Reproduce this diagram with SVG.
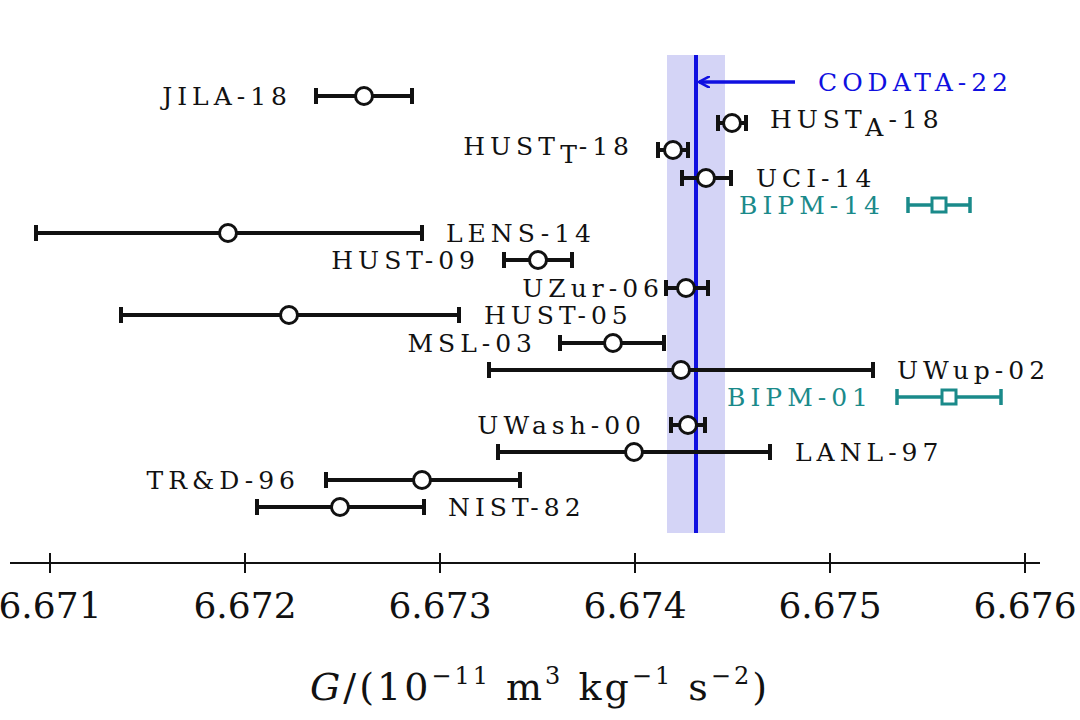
<svg xmlns="http://www.w3.org/2000/svg" width="1080" height="720" viewBox="0 0 1080 720">
<style>
text{font-family:"DejaVu Serif","Liberation Serif",serif;fill:#111}
.l{font-size:25px;letter-spacing:5px}
.t{font-size:36px}
.bar{stroke:#111;stroke-width:4;fill:none}
.tb{stroke:#1a8a8a;stroke-width:3.5;fill:none}
.pt{fill:#fff;stroke:#111;stroke-width:3}
.ts{fill:#fff;stroke:#1a8a8a;stroke-width:3}
.teal{fill:#1a8a8a}
</style>
<defs>
<marker id="ah" markerWidth="12" markerHeight="12" refX="11" refY="6" orient="auto" markerUnits="userSpaceOnUse"><path d="M0,0 L11,6 L0,12" fill="none" stroke="#1010e0" stroke-width="2.5"/></marker>
</defs>
<rect width="1080" height="720" fill="#fff"/>
<rect x="667" y="55" width="58" height="478" fill="#d4d4f6"/>
<line x1="696" y1="55" x2="696" y2="533" stroke="#1010e0" stroke-width="4"/>
<g id="connectors">
<line x1="795" y1="82" x2="699" y2="82" stroke="#1010e0" stroke-width="3.5" marker-end="url(#ah)"/>
</g>
<text x="818" y="91" class="l" style="fill:#1010e0">CODATA-22</text>
<g id="axis">
<line x1="10" y1="563" x2="1040" y2="563" stroke="#111" stroke-width="2"/>
<path d="M50,553V573M245,553V573M440,553V573M635,553V573M830,553V573M1025,553V573" stroke="#111" stroke-width="2"/>
<g text-anchor="middle">
<text x="50" y="618" class="t">6.671</text><text x="245" y="618" class="t">6.672</text><text x="440" y="618" class="t">6.673</text><text x="635" y="618" class="t">6.674</text><text x="830" y="618" class="t">6.675</text><text x="1025" y="618" class="t">6.676</text>
</g>
<text x="540" y="700" font-size="38" letter-spacing="3" text-anchor="middle"><tspan font-style="italic">G</tspan>/(10<tspan font-size="24" dy="-16">−11</tspan><tspan dy="16"> m</tspan><tspan font-size="24" dy="-16">3</tspan><tspan dy="16"> kg</tspan><tspan font-size="24" dy="-16">−1</tspan><tspan dy="16"> s</tspan><tspan font-size="24" dy="-16">−2</tspan><tspan dy="16">)</tspan></text>
</g>
<g id="JILA-18"><path class="bar" d="M316,96H412M316,88V104M412,88V104"/><circle class="pt" cx="364" cy="96" r="8.5"/><text class="l" x="292" y="105" text-anchor="end">JILA-18</text></g>
<g id="HUSTA-18"><path class="bar" d="M718,123H746M718,115V131M746,115V131"/><circle class="pt" cx="732" cy="123" r="8.5"/><text class="l" x="770" y="128">HUST<tspan dy="8">A</tspan><tspan dy="-8">-18</tspan></text></g>
<g id="HUSTT-18"><path class="bar" d="M658,150H688M658,142V158M688,142V158"/><circle class="pt" cx="673" cy="150" r="8.5"/><text class="l" x="634" y="155" text-anchor="end">HUST<tspan dy="8">T</tspan><tspan dy="-8">-18</tspan></text></g>
<g id="UCI-14"><path class="bar" d="M682,178H731M682,170V186M731,170V186"/><circle class="pt" cx="706" cy="178" r="8.5"/><text class="l" x="756" y="187">UCI-14</text></g>
<g id="BIPM-14"><path class="tb" d="M908,205H970M908,197V213M970,197V213"/><rect class="ts" x="932" y="198" width="14" height="14"/><text class="l teal" x="885" y="214" text-anchor="end">BIPM-14</text></g>
<g id="LENS-14"><path class="bar" d="M36,233H422M36,225V241M422,225V241"/><circle class="pt" cx="228" cy="233" r="8.5"/><text class="l" x="446" y="242">LENS-14</text></g>
<g id="HUST-09"><path class="bar" d="M504,260H572M504,252V268M572,252V268"/><circle class="pt" cx="538" cy="260" r="8.5"/><text class="l" x="480" y="269" text-anchor="end">HUST-09</text></g>
<g id="UZur-06"><path class="bar" d="M666,288H708M666,280V296M708,280V296"/><circle class="pt" cx="686" cy="288" r="8.5"/><text class="l" x="664" y="297" text-anchor="end">UZur-06</text></g>
<g id="HUST-05"><path class="bar" d="M121,315H459M121,307V323M459,307V323"/><circle class="pt" cx="289" cy="315" r="8.5"/><text class="l" x="484" y="324">HUST-05</text></g>
<g id="MSL-03"><path class="bar" d="M560,343H664M560,335V351M664,335V351"/><circle class="pt" cx="613" cy="343" r="8.5"/><text class="l" x="537" y="352" text-anchor="end">MSL-03</text></g>
<g id="UWup-02"><path class="bar" d="M489,370H873M489,362V378M873,362V378"/><circle class="pt" cx="681" cy="370" r="8.5"/><text class="l" x="897" y="379">UWup-02</text></g>
<g id="BIPM-01"><path class="tb" d="M897,397H1001M897,389V405M1001,389V405"/><rect class="ts" x="942" y="390" width="14" height="14"/><text class="l teal" x="873" y="406" text-anchor="end">BIPM-01</text></g>
<g id="UWash-00"><path class="bar" d="M671,425H705M671,417V433M705,417V433"/><circle class="pt" cx="688" cy="425" r="8.5"/><text class="l" x="646" y="434" text-anchor="end">UWash-00</text></g>
<g id="LANL-97"><path class="bar" d="M498,452H770M498,444V460M770,444V460"/><circle class="pt" cx="634" cy="452" r="8.5"/><text class="l" x="795" y="461">LANL-97</text></g>
<g id="TRD-96"><path class="bar" d="M326,480H520M326,472V488M520,472V488"/><circle class="pt" cx="422" cy="480" r="8.5"/><text class="l" x="300" y="489" text-anchor="end">TR&amp;D-96</text></g>
<g id="NIST-82"><path class="bar" d="M257,507H424M257,499V515M424,499V515"/><circle class="pt" cx="340" cy="507" r="8.5"/><text class="l" x="448" y="516">NIST-82</text></g>
</svg>
